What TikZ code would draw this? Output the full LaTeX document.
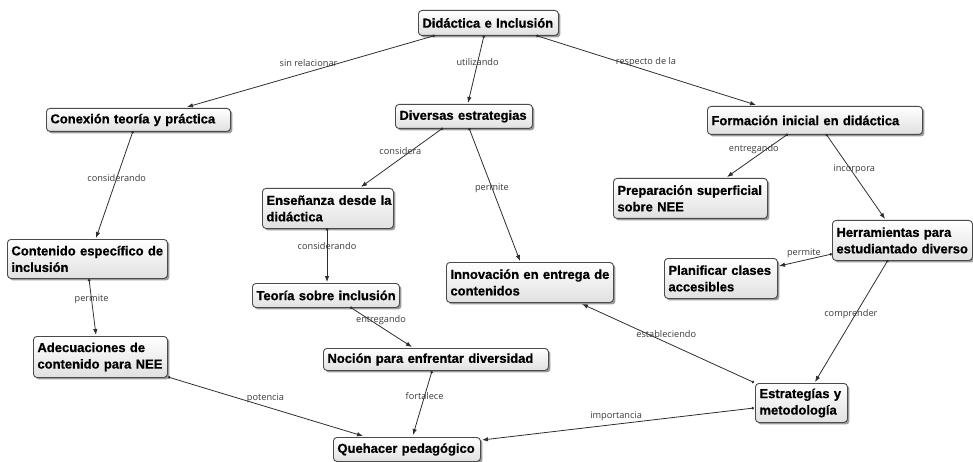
\documentclass[tikz,border=0pt]{standalone}
\usepackage{fontspec}
\setmainfont{Liberation Sans}
\newfontfamily\conceptfont{Liberation Sans}[BoldFeatures={FakeBold=0.7}]
\newfontfamily\labelfont{Open Sans}
\usetikzlibrary{arrows.meta,calc,shadows}
\definecolor{edgec}{HTML}{2E2E2E}
\definecolor{lblc}{HTML}{3A3A3A}
\definecolor{boxline}{HTML}{4A4A4A}
\definecolor{boxbot}{HTML}{E0E0E0}
\tikzset{
  concept/.style={draw=boxline, line width=0.9pt, rounded corners=3.5pt,
    top color=white, bottom color=boxbot, anchor=north west,
    inner xsep=4pt, inner ysep=0pt, align=left,
    font=\conceptfont\bfseries\fontsize{13}{16.5}\selectfont,
    drop shadow={shadow xshift=2pt, shadow yshift=-2pt, fill=black!60, opacity=0.65}},
  cdim/.style n args={3}{minimum width=#1pt, minimum height=#2pt, text width=#3pt},
  link/.style={draw=edgec, line width=0.8pt,
    {Circle[length=2.6pt]}-{Latex[length=6pt,width=4.5pt]}},
  lbl/.style={font=\labelfont\fontsize{9.2}{11}\selectfont, text=lblc, inner sep=0pt}
}
\begin{document}
\begin{tikzpicture}[x=1pt,y=-1pt]
\useasboundingbox (0,0) rectangle (973,462);
% concepts
\node[concept, cdim={140}{25}{132}] (did) at (418,10) {\mbox{Didáctica e Inclusión}};
\node[concept, cdim={184}{23}{176}] (con) at (46,108) {\mbox{Conexión teoría y práctica}};
\node[concept, cdim={137}{24}{129}] (div) at (395,104) {\mbox{Diversas estrategias}};
\node[concept, cdim={215}{28}{207}] (for) at (707,106) {\mbox{Formación inicial en didáctica}};
\node[concept, cdim={131}{40}{123}] (ens) at (262,188) {\mbox{Enseñanza desde la}\\\mbox{didáctica}};
\node[concept, cdim={160}{39}{152}] (cont) at (7,239) {\mbox{Contenido específico de}\\\mbox{inclusión}};
\node[concept, cdim={147}{24}{139}] (teo) at (252,283) {\mbox{Teoría sobre inclusión}};
\node[concept, cdim={167}{40}{159}] (inn) at (446,262) {\mbox{Innovación en entrega de}\\\mbox{contenidos}};
\node[concept, cdim={154}{40}{146}] (pre) at (613,178) {\mbox{Preparación superficial}\\\mbox{sobre NEE}};
\node[concept, cdim={140}{40}{132}] (her) at (832,220) {\mbox{Herramientas para}\\\mbox{estudiantado diverso}};
\node[concept, cdim={113}{40}{105}] (pla) at (664,258) {\mbox{Planificar clases}\\\mbox{accesibles}};
\node[concept, cdim={134}{41}{126}] (ade) at (33,336) {\mbox{Adecuaciones de}\\\mbox{contenido para NEE}};
\node[concept, cdim={225}{22}{217}] (noc) at (323,348) {\mbox{Noción para enfrentar diversidad}};
\node[concept, cdim={147}{24}{139}] (que) at (333,437) {\mbox{Quehacer pedagógico}};
\node[concept, cdim={92}{39}{84}] (est) at (755,383) {\mbox{Estrategías y}\\\mbox{metodología}};
% links
\draw[link] ($(did.north west)+(17,25.5)$) -- ($(con.north west)+(141,-1)$)
  node[lbl, pos=0.51, yshift=9pt] (l1) {sin relacionar};
\draw[link] ($(did.north west)+(66,25.5)$) -- ($(div.north west)+(73,-1)$)
  node[lbl, pos=0.4] (l2) {utilizando};
\draw[link] ($(did.north west)+(118,25.5)$) -- ($(for.north west)+(49,-1)$)
  node[lbl, pos=0.5, yshift=8pt] (l3) {respecto de la};
\draw[link] ($(con.north west)+(87,23)$) -- ($(cont.north west)+(89,-1)$)
  node[lbl, pos=0.44] (l4) {considerando};
\draw[link] ($(div.north west)+(48,24)$) -- ($(ens.north west)+(99,-1)$)
  node[lbl, pos=0.52, yshift=8pt] (l5) {considera};
\draw[link] ($(div.north west)+(74,24)$) -- ($(inn.north west)+(74,-1)$)
  node[lbl, pos=0.45] (l6) {permite};
\draw[link] ($(for.north west)+(81,28)$) -- ($(pre.north west)+(114,-1)$)
  node[lbl, pos=0.56, yshift=9pt] (l7) {entregando};
\draw[link] ($(for.north west)+(119,28)$) -- ($(her.north west)+(53,-1)$)
  node[lbl, pos=0.41, xshift=4pt] (l8) {incorpora};
\draw[link] ($(ens.north west)+(65,40)$) -- ($(teo.north west)+(75,-1)$)
  node[lbl, pos=0.34] (l9) {considerando};
\draw[link] ($(cont.north west)+(82,40)$) -- ($(ade.north west)+(63,-1)$)
  node[lbl, pos=0.37] (l10) {permite};
\draw[link] ($(teo.north west)+(98,24)$) -- ($(noc.north west)+(89,-1)$)
  node[lbl, pos=0.5, yshift=7pt] (l11) {entregando};
\draw[link] ($(her.north west)+(0,34)$) -- ($(pla.north west)+(115,8)$)
  node[lbl, pos=0.53, yshift=7pt] (l12) {permite};
\draw[link] ($(her.north west)+(56,40)$) -- ($(est.north west)+(60,-1)$)
  node[lbl, pos=0.44, xshift=-5pt] (l13) {comprender};
\draw[link] ($(est.north west)+(-1,-0.5)$) -- ($(inn.north west)+(136,42)$)
  node[lbl, pos=0.51, yshift=8pt] (l14) {estableciendo};
\draw[link] ($(est.north west)+(-1,25)$) -- ($(que.north west)+(149,3)$)
  node[lbl, pos=0.507, yshift=8pt] (l15) {importancia};
\draw[link] ($(ade.north west)+(135,41)$) -- ($(que.north west)+(30,-1)$)
  node[lbl, pos=0.5, yshift=8pt] (l16) {potencia};
\draw[link] ($(noc.north west)+(109,23)$) -- ($(que.north west)+(80,-2)$)
  node[lbl, pos=0.39] (l17) {fortalece};
\end{tikzpicture}
\end{document}
